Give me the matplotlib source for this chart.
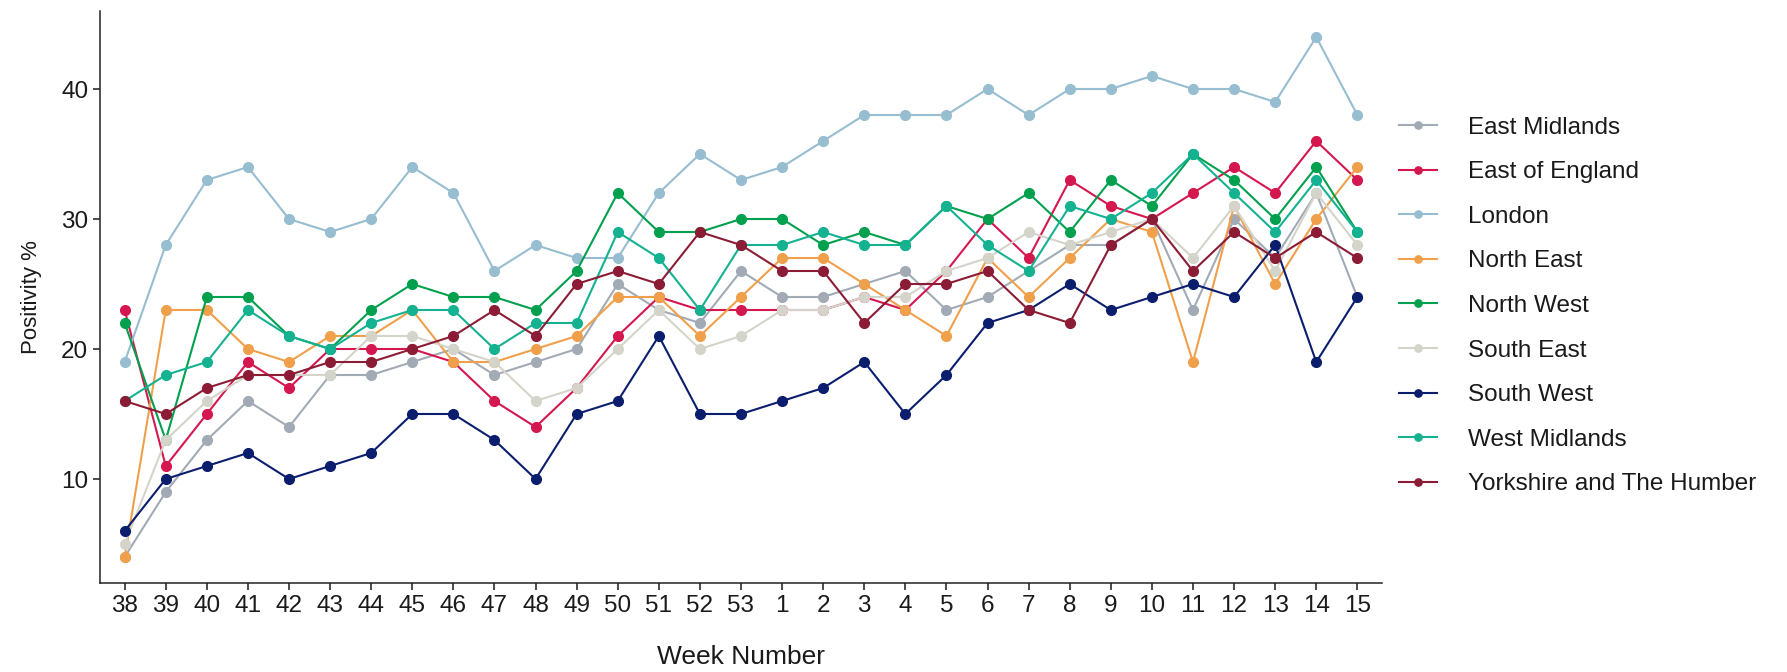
import matplotlib
matplotlib.use("Agg")
import matplotlib.pyplot as plt

plt.rcParams['font.family'] = ['Liberation Sans', 'DejaVu Sans']

weeks = ["38", "39", "40", "41", "42", "43", "44", "45", "46", "47", "48", "49", "50", "51", "52", "53",
         "1", "2", "3", "4", "5", "6", "7", "8", "9", "10", "11", "12", "13", "14", "15"]

east_midlands = [4, 9, 13, 16, 14, 18, 18, 19, 20, 18, 19, 20, 25, 23, 22, 26,
                 24, 24, 25, 26, 23, 24, 26, 28, 28, 30, 23, 30, 27, 32, 24]
east_of_england = [23, 11, 15, 19, 17, 20, 20, 20, 19, 16, 14, 17, 21, 24, 23, 23,
                   23, 23, 24, 23, 26, 30, 27, 33, 31, 30, 32, 34, 32, 36, 33]
london = [19, 28, 33, 34, 30, 29, 30, 34, 32, 26, 28, 27, 27, 32, 35, 33,
          34, 36, 38, 38, 38, 40, 38, 40, 40, 41, 40, 40, 39, 44, 38]
north_east = [4, 23, 23, 20, 19, 21, 21, 23, 19, 19, 20, 21, 24, 24, 21, 24,
              27, 27, 25, 23, 21, 27, 24, 27, 30, 29, 19, 31, 25, 30, 34]
north_west = [22, 13, 24, 24, 21, 20, 23, 25, 24, 24, 23, 26, 32, 29, 29, 30,
              30, 28, 29, 28, 31, 30, 32, 29, 33, 31, 35, 33, 30, 34, 29]
south_east = [5, 13, 16, 18, 18, 18, 21, 21, 20, 19, 16, 17, 20, 23, 20, 21,
              23, 23, 24, 24, 26, 27, 29, 28, 29, 30, 27, 31, 26, 32, 28]
south_west = [6, 10, 11, 12, 10, 11, 12, 15, 15, 13, 10, 15, 16, 21, 15, 15,
              16, 17, 19, 15, 18, 22, 23, 25, 23, 24, 25, 24, 28, 19, 24]
west_midlands = [16, 18, 19, 23, 21, 20, 22, 23, 23, 20, 22, 22, 29, 27, 23, 28,
                 28, 29, 28, 28, 31, 28, 26, 31, 30, 32, 35, 32, 29, 33, 29]
yorkshire = [16, 15, 17, 18, 18, 19, 19, 20, 21, 23, 21, 25, 26, 25, 29, 28,
             26, 26, 22, 25, 25, 26, 23, 22, 28, 30, 26, 29, 27, 29, 27]

regions = ["East Midlands", "East of England", "London", "North East", "North West",
           "South East", "South West", "West Midlands", "Yorkshire and The Humber"]
series = [east_midlands, east_of_england, london, north_east, north_west,
          south_east, south_west, west_midlands, yorkshire]
colors = ["#a2abb5", "#d4174f", "#97bdd0", "#f0a04b", "#00a04e",
          "#d4d4ca", "#0b1e6e", "#14b291", "#8c1c35"]

fig = plt.figure(figsize=(17.87, 6.72), dpi=100)
ax = fig.add_axes([100/1787, 1-583/672, (1382-100)/1787, (583-11)/672])

x = list(range(len(weeks)))
for name, vals, c in zip(regions, series, colors):
    ax.plot(x, vals, color=c, lw=1.5, marker='o', markersize=7, label=name)

ax.set_xlim(-0.6, len(weeks) - 0.4)
ax.set_ylim(2, 46)
ax.set_xticks(x)
ax.set_xticklabels(weeks)
ax.set_yticks([10, 20, 30, 40])
for s in ['top', 'right']:
    ax.spines[s].set_visible(False)
for s in ['left', 'bottom']:
    ax.spines[s].set_color('#222222')
    ax.spines[s].set_linewidth(1.1)
ax.tick_params(axis='both', labelsize=17.5, colors='#1a1a1a', length=5, width=1.1, direction='out')
ax.tick_params(axis='x', pad=4)
ax.set_xlabel("Week Number", fontsize=19, color='#1a1a1a', labelpad=20)
ax.set_ylabel("Positivity %", fontsize=16, color='#1a1a1a', labelpad=14)

leg = fig.legend(loc='center left', bbox_to_anchor=(1377/1787, 1-306/672), frameon=False,
                 fontsize=17.5, handlelength=1.56, labelspacing=0.93, handletextpad=1.3,
                 markerscale=0.75)
for t in leg.get_texts():
    t.set_color('#1a1a1a')

fig.savefig("out.png", dpi=100)
